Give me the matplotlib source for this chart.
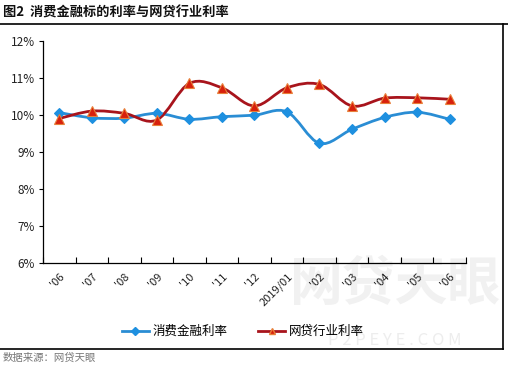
import numpy as np
import matplotlib
matplotlib.use('Agg')
import matplotlib.pyplot as plt
from matplotlib.path import Path
from matplotlib.patches import PathPatch
from matplotlib.lines import Line2D

plt.rcParams['font.family'] = ['Noto Sans CJK SC', 'DejaVu Sans']

# ---- data ----
months = ["'06", "'07", "'08", "'09", "'10", "'11", "'12", "2019/01",
          "'02", "'03", "'04", "'05", "'06"]
consumer_rate = [10.06, 9.92, 9.91, 10.04, 9.88, 9.95, 9.99, 10.08,
                 9.23, 9.61, 9.93, 10.07, 9.88]
p2p_rate = [9.90, 10.10, 10.04, 9.86, 10.85, 10.73, 10.24, 10.73,
            10.82, 10.24, 10.45, 10.46, 10.42]
series_names = ['消费金融利率', '网贷行业利率']
title = '图2  消费金融标的利率与网贷行业利率'
source = '数据来源：网贷天眼'

BLUE = '#2A8DD4'
BLUE_MK = '#1E90E0'
RED = '#A8141C'
RED_MK = '#D8200C'
RED_EDGE = '#E8803A'


def smooth_path(xs, ys):
    """Excel-like smoothed line through the points (cubic bezier)."""
    pts = np.column_stack([xs, ys]).astype(float)
    ext = np.vstack([pts[0], pts, pts[-1]])
    verts = [pts[0]]
    codes = [Path.MOVETO]
    for i in range(len(pts) - 1):
        p0, p1, p2, p3 = ext[i], ext[i + 1], ext[i + 2], ext[i + 3]
        c1 = p1 + (p2 - p0) / 6.0
        c2 = p2 - (p3 - p1) / 6.0
        verts += [c1, c2, p2]
        codes += [Path.CURVE4] * 3
    return Path(verts, codes)


fig = plt.figure(figsize=(5.08, 3.74), dpi=100)

# watermark, drawn first and behind everything
fig.text(0.778, 0.238, '网贷天眼', fontsize=38, fontweight='bold',
         color='#f1f1f1', ha='center', va='center', zorder=-5)
fig.text(0.778, 0.09, 'P 2 P E Y E . C O M', fontsize=12,
         color='#ededed', ha='center', va='center', zorder=-5)

ax = fig.add_axes([0.0846, 0.297, 0.8325, 0.594])
ax.patch.set_alpha(0)

x = np.arange(len(months))
for vals, col, mk, mkc, mke, ms in [
        (consumer_rate, BLUE, 'D', BLUE_MK, BLUE_MK, 5),
        (p2p_rate, RED, '^', RED_MK, RED_EDGE, 7)]:
    ax.add_patch(PathPatch(smooth_path(x, vals), facecolor='none',
                           edgecolor=col, lw=2.0, zorder=3))
    ax.plot(x, vals, ls='none', marker=mk, ms=ms, mfc=mkc, mec=mke,
            mew=0.8, zorder=4)

ax.set_xlim(-0.5, len(months) - 0.5)
ax.set_ylim(6, 12)
ax.set_yticks(np.arange(6, 12.5, 1))
ax.set_yticklabels([f'{v:d}%' for v in range(6, 13)], fontsize=8.5,
                   color='#222222')
ax.tick_params(axis='y', direction='out', length=3, width=0.8, pad=3)

ax.set_xticks(np.arange(-0.5, len(months)), minor=True)
ax.set_xticks(x)
ax.set_xticklabels(months, rotation=45, ha='right', rotation_mode='anchor',
                   fontsize=8, color='#222222')
ax.tick_params(axis='x', which='major', length=0, pad=6)
ax.tick_params(axis='x', which='minor', direction='in', length=4, width=0.8)

for s in ['top', 'right']:
    ax.spines[s].set_visible(False)
for s in ['left', 'bottom']:
    ax.spines[s].set_linewidth(0.9)

handles = [Line2D([], [], color=BLUE, lw=2, marker='D', ms=4,
                  mfc=BLUE_MK, mec=BLUE_MK),
           Line2D([], [], color=RED, lw=2, marker='^', ms=5,
                  mfc=RED_MK, mec=RED_EDGE)]
fig.legend(handles, series_names, loc='center', ncol=2, frameon=False,
           bbox_to_anchor=(0.478, 0.113), fontsize=9, handlelength=2.2,
           columnspacing=2.4, handletextpad=0.3)

# frame lines and header / footer
fig.add_artist(Line2D([0, 1], [1 - 24 / 374] * 2, color='black', lw=1.2))
fig.add_artist(Line2D([0, 503 / 508], [1 - 349 / 374] * 2, color='black',
                      lw=1.2))
fig.add_artist(Line2D([503 / 508] * 2, [1 - 24 / 374, 1 - 349 / 374],
                      color='black', lw=1.2))
fig.text(0.006, 1 - 13 / 374, title, fontsize=9.5, fontweight='bold',
         ha='left', va='center', color='#111111')
fig.text(0.006, 1 - 358 / 374, source, fontsize=7.5, ha='left',
         va='center', color='#777777')

fig.savefig('out.png', dpi=100)
